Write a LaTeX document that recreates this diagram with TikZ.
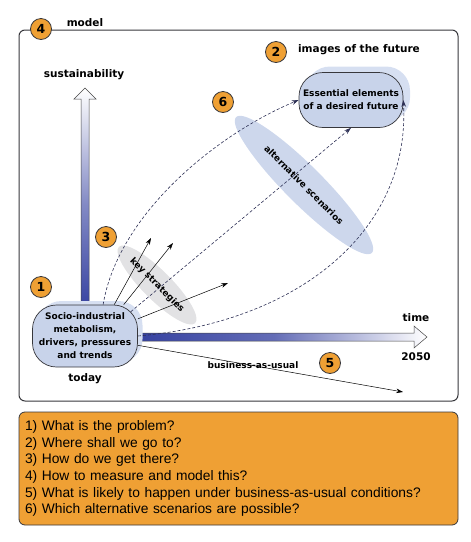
\documentclass[tikz,border=0pt]{standalone}
\usepackage{fontspec}
\setmainfont{Liberation Sans}
\newfontfamily\diagfont{DejaVu Sans}
\usepackage{tikz}
\usetikzlibrary{shapes.geometric, arrows.meta, positioning, calc}
\definecolor{cAxis}{RGB}{48,60,158}
\definecolor{cBlob}{RGB}{200,211,234}
\definecolor{cHalo}{RGB}{214,223,241}
\definecolor{cCloud}{RGB}{205,215,236}
\definecolor{cGrey}{RGB}{226,226,228}
\definecolor{cOrange}{RGB}{239,160,52}
\definecolor{cEdge}{RGB}{55,55,60}
\definecolor{cDash}{RGB}{45,48,85}
\tikzset{
	numc/.style  ={circle, draw=cEdge, line width=0.8pt, fill=cOrange, minimum size=21pt, inner sep=0pt, font=\diagfont\bfseries\fontsize{12.5}{12.5}\selectfont},
	blob/.style  ={rectangle, rounded corners=24pt, draw=cEdge, line width=0.7pt, fill=cBlob, align=center, inner sep=1pt, font=\diagfont\bfseries\fontsize{9}{13}\selectfont},
	halo/.style  ={rectangle, rounded corners=24pt, fill=cHalo},
	lbl/.style   ={font=\diagfont\bfseries\fontsize{10.5}{12}\selectfont, inner sep=1pt},
	small/.style ={font=\diagfont\bfseries\fontsize{9}{10}\selectfont, inner sep=1pt},
	cloud/.style ={ellipse, inner sep=0pt, rotate=-45},
	axis/.style  ={draw=gray!55!black, line width=0.5pt},
	strat/.style ={-{Stealth[length=2.4mm, width=1.6mm]}, line width=0.5pt, black},
	route/.style ={-{Stealth[length=2.4mm, width=1.6mm]}, cDash, dash pattern=on 3pt off 2pt, line width=0.6pt},
	frame/.style ={rectangle, rounded corners=6pt, draw=cEdge, line width=1pt},
	qbox/.style  ={rectangle, rounded corners=6pt, draw=cEdge, line width=0.8pt, fill=cOrange, align=left, text width=427pt, inner xsep=6pt, font=\fontsize{13.8}{16.7}\selectfont},
}
\begin{document}
\begin{tikzpicture}[x=1pt, y=-1pt]
	\useasboundingbox (0,0) rectangle (471,542);
	% frame and questions
	\node[frame, minimum width=439pt, minimum height=371pt] (model) at (238.5,215.5) {};
	\node[qbox, minimum width=439pt, minimum height=113pt] (qs) at (238.5,468.5) {1) What is the problem?\\
		2) Where shall we go to?\\
		3) How do we get there?\\
		4) How to measure and model this?\\
		5) What is likely to happen under business-as-usual conditions?\\
		6) Which alternative scenarios are possible?};
	% axes
	\shade[axis, top color=white, bottom color=cAxis, middle color=cAxis!60!white]
		(81,320) -- (81,99) -- (74,99) -- (85,88) -- (96,99) -- (89,99) -- (89,320) -- cycle;
	\shade[axis, left color=cAxis, right color=white, middle color=cAxis!75!white]
		(120,333) -- (414,333) -- (414,326) -- (427,337) -- (414,348) -- (414,341) -- (120,341) -- cycle;
	% clouds
	\node[cloud, fill=cCloud, minimum width=192pt, minimum height=38pt] (alt) at (304,185) {};
	\node[cloud, fill=cGrey, minimum width=108pt, minimum height=29pt] (keys) at (157,285) {};
	% today and future
	\node[halo, minimum width=105pt, minimum height=62pt] (sochalo) at (90,332) {};
	\node[blob, minimum width=105pt, minimum height=62pt] (socio) at (85,336) {Socio-industrial\\metabolism,\\drivers, pressures\\and trends};
	\node[halo, minimum width=104pt, minimum height=55pt] (futhalo) at (358,94) {};
	\node[blob, minimum width=104pt, minimum height=55pt] (future) at (351,100) {Essential elements\\of a desired future};
	% pathways
	\draw[route] (socio.60) .. controls (118,215) and (215,135) .. (future.west);
	\draw[route] ($(socio.north east)+(-7,7)$) -- (future.south);
	\draw[route] (socio.east) .. controls (300,322) and (410,230) .. (future.east);
	\coordinate (k1) at (151,238);
	\coordinate (k2) at (173,243);
	\coordinate (k3) at (228,283);
	\coordinate (bau) at (403,392);
	\draw[strat] (socio.47) -- (k1);
	\draw[strat] (socio.39) -- (k2);
	\draw[strat] (socio.18) -- (k3);
	\draw[strat] (socio) -- (bau);
	\node[small, rotate=-45] (alttxt) at (alt) {alternative scenarios};
	\node[small, rotate=-45] (keytxt) at (keys) {key strategies};
	% labels
	\node[lbl] (mlbl) at (85,23) {model};
	\node[lbl] (sus) at (84,75) {sustainability};
	\node[lbl] (img) at (359,50) {images of the future};
	\node[lbl] (time) at (416,318) {time};
	\node[lbl] (yr) at (416,357) {2050};
	\node[lbl, below=5pt of socio] (today) {today};
	\node[small] (baulbl) at (253,365) {business-as-usual};
	% numbered questions
	\node[numc] (n1) at (41,287) {1};
	\node[numc] (n2) at (276,52) {2};
	\node[numc] (n3) at (106,237) {3};
	\node[numc] (n4) at (41,29) {4};
	\node[numc] (n5) at (330,363) {5};
	\node[numc] (n6) at (223,102) {6};
\end{tikzpicture}
\end{document}
